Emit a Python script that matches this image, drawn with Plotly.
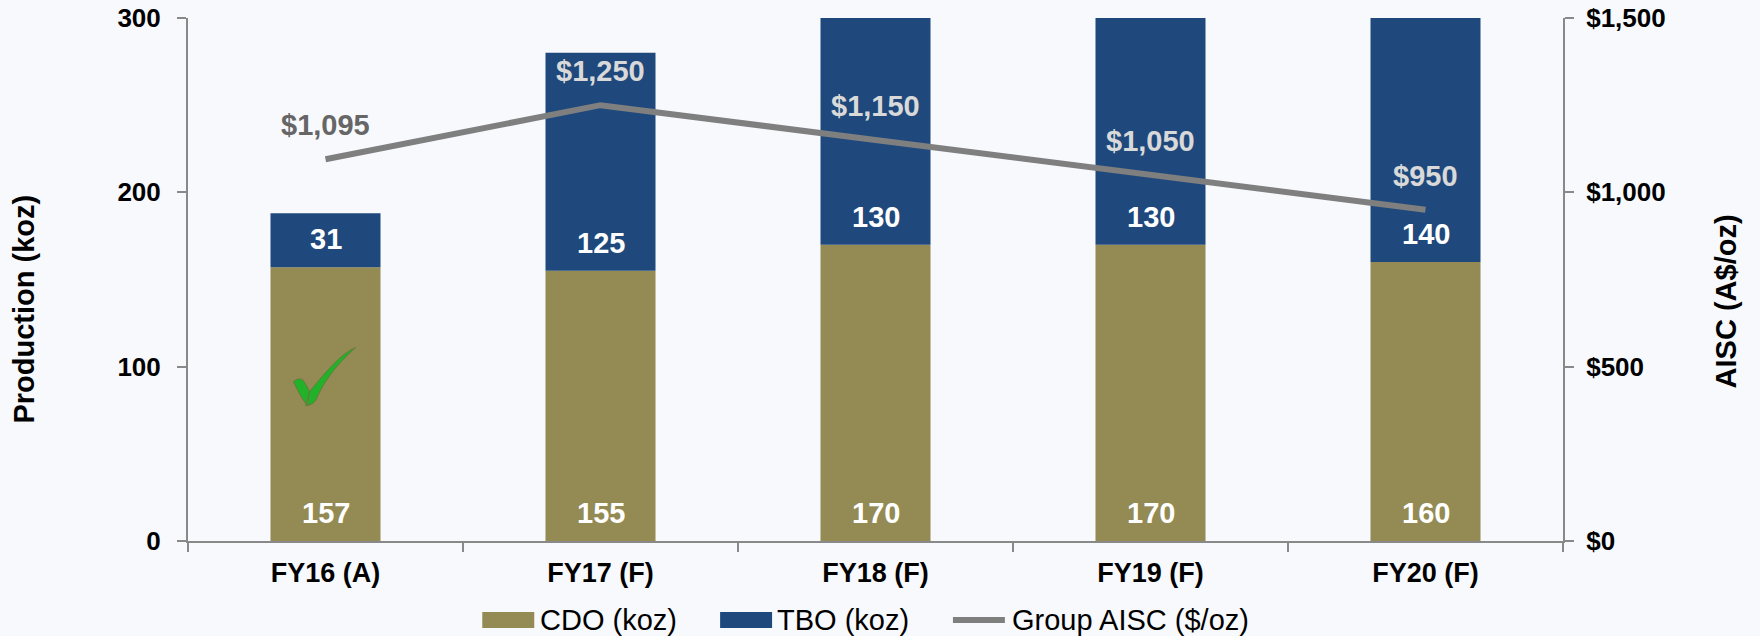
import plotly.graph_objects as go

categories = ["FY16 (A)", "FY17 (F)", "FY18 (F)", "FY19 (F)", "FY20 (F)"]
cdo_koz = [157, 155, 170, 170, 160]
tbo_koz = [31, 125, 130, 130, 140]
group_aisc = [1095, 1250, 1150, 1050, 950]
aisc_label_colors = ["#666666", "#D9D9D9", "#D9D9D9", "#D9D9D9", "#D9D9D9"]
left_ticks = [0, 100, 200, 300]
right_ticks = [0, 500, 1000, 1500]
right_tick_labels = ["$0", "$500", "$1,000", "$1,500"]

W, H = 1760, 636
L, R, T, B = 187.5, 1563.5, 18, 541
FONT = "Liberation Sans"
BG = "#F7F9FD"
OLIVE = "#948A54"
NAVY = "#1F497D"
GREY = "#7F7F7F"
AXIS = "#898989"
SIZE = 29
TICK_SIZE = 26


def px(x):
    return (x - L) / (R - L)


def py(y):
    return (B - y) / (B - T)


fig = go.Figure()
fig.add_bar(name="CDO (koz)", x=categories, y=cdo_koz, marker=dict(color=OLIVE, line_width=0), width=0.4)
fig.add_bar(name="TBO (koz)", x=categories, y=tbo_koz, base=cdo_koz, marker=dict(color=NAVY, line_width=0), width=0.4)
fig.add_scatter(name="Group AISC ($/oz)", x=categories, y=group_aisc, yaxis="y2", mode="lines",
                line=dict(color=GREY, width=6), showlegend=False)

ann = []
for i, c in enumerate(categories):
    ann.append(dict(x=c, y=0, yref="y", text=str(cdo_koz[i]), showarrow=False, yshift=28,
                    font=dict(size=SIZE, color="white", family=FONT, weight="bold")))
    ann.append(dict(x=c, y=cdo_koz[i], yref="y", text=str(tbo_koz[i]), showarrow=False, yshift=28,
                    font=dict(size=SIZE, color="white", family=FONT, weight="bold")))
    ann.append(dict(x=c, y=group_aisc[i], yref="y2", text=f"${group_aisc[i]:,}", showarrow=False, yshift=34,
                    font=dict(size=SIZE, color=aisc_label_colors[i], family=FONT, weight="bold")))

# axis titles
ann.append(dict(xref="paper", yref="paper", x=px(23), y=py(309), xanchor="center", yanchor="middle",
                text="Production (koz)", textangle=-90, showarrow=False,
                font=dict(size=SIZE, color="black", family=FONT, weight="bold")))
ann.append(dict(xref="paper", yref="paper", x=px(1727), y=py(301), xanchor="center", yanchor="middle",
                text="AISC (A$/oz)", textangle=-90, showarrow=False,
                font=dict(size=SIZE, color="black", family=FONT, weight="bold")))

# legend
shapes = []
LEG_Y = 620
for x0, x1, col, label, tx in [(482, 534, OLIVE, "CDO (koz)", 538), (720, 772, NAVY, "TBO (koz)", 775)]:
    shapes.append(dict(type="rect", xref="paper", yref="paper", x0=px(x0), x1=px(x1), y0=py(LEG_Y - 8), y1=py(LEG_Y + 8),
                       fillcolor=col, line_width=0))
    ann.append(dict(xref="paper", yref="paper", x=px(tx), y=py(LEG_Y), xanchor="left", yanchor="middle", text=label,
                    showarrow=False, font=dict(size=SIZE, color="black", family=FONT)))
shapes.append(dict(type="line", xref="paper", yref="paper", x0=px(953), x1=px(1005), y0=py(LEG_Y), y1=py(LEG_Y),
                   line=dict(color=GREY, width=6)))
ann.append(dict(xref="paper", yref="paper", x=px(1010), y=py(LEG_Y), xanchor="left", yanchor="middle",
                text="Group AISC ($/oz)", showarrow=False, font=dict(size=SIZE, color="black", family=FONT)))

# green tick mark on the FY16 bar (pixel offsets from the bar centre at y=100)
shapes.append(dict(type="path", xsizemode="pixel", ysizemode="pixel", xref="x", yref="y",
                   xanchor=categories[0], yanchor=100,
                   path="M30,19 C18,14 6,2 -16,-25 C-20,-39 -20,-39 -19,-39 C-14,-38 -10,-35 -9,-32 "
                        "C-4,-20 8,0 30,19 Z M-32,-15 C-29,-12 -25,-12 -23,-13 C-19,-18 -17,-23 -16,-25 "
                        "L-18,-39 C-24,-32 -28,-23 -32,-15 Z",
                   fillcolor="#22B22A", line=dict(color="#5E7F3A", width=1)))

fig.update_layout(
    width=W, height=H, autosize=False,
    margin=dict(l=L, r=W - R, t=T, b=H - B, pad=0),
    paper_bgcolor=BG, plot_bgcolor=BG,
    barmode="overlay", showlegend=False,
    font=dict(family=FONT, color="black"),
    annotations=ann, shapes=shapes,
    xaxis=dict(type="category", range=[-0.5, 4.5], automargin=False, showgrid=False, showline=True, linecolor=AXIS,
               linewidth=2, ticks="outside", ticklen=9, tickcolor=AXIS, tickwidth=2, tickson="boundaries",
               ticklabelstandoff=7, tickfont=dict(size=27, family=FONT, weight="bold", color="black")),
    yaxis=dict(range=[0, 300], tickvals=left_ticks, automargin=False, showgrid=False, zeroline=False, showline=True,
               linecolor=AXIS, linewidth=2, ticks="outside", ticklen=9, tickcolor=AXIS, tickwidth=2,
               ticklabelstandoff=11, tickfont=dict(size=TICK_SIZE, family=FONT, weight="bold", color="black")),
    yaxis2=dict(range=[0, 1500], overlaying="y", side="right", tickvals=right_ticks, ticktext=right_tick_labels,
                automargin=False, showgrid=False, zeroline=False, showline=True, linecolor=AXIS, linewidth=2,
                ticks="outside", ticklen=9, tickcolor=AXIS, tickwidth=2, ticklabelstandoff=7,
                tickfont=dict(size=TICK_SIZE, family=FONT, weight="bold", color="black")),
)

fig.write_html("out.html", post_script="document.body.style.margin='0';document.body.style.background='%s';" % BG,
               config=dict(displayModeBar=False))
